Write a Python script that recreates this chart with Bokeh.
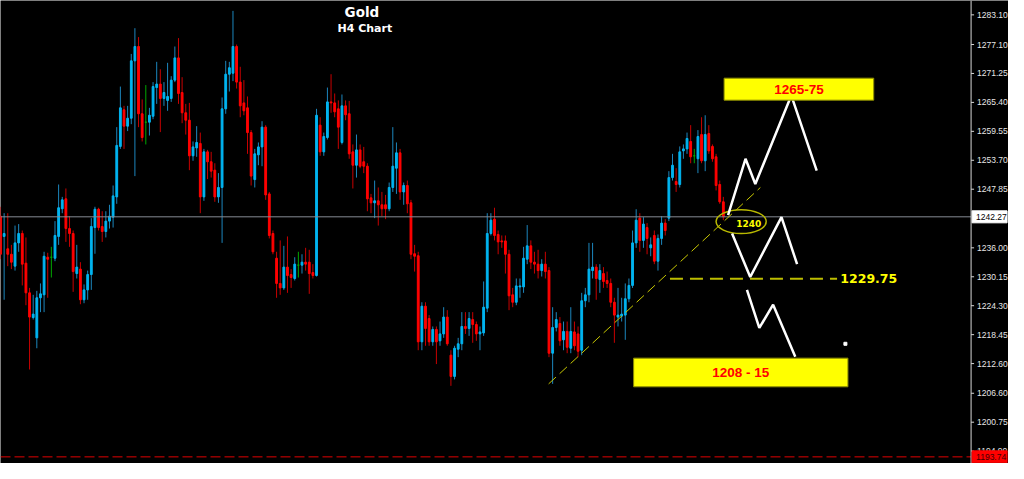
from bokeh.plotting import figure
from bokeh.models import ColumnDataSource, Label
from bokeh.core.properties import value
from bokeh.embed import file_html
from bokeh.resources import INLINE

# ---------------- data (Gold, H4) ----------------
opens = [1242.4, 1238.3, 1235.8, 1234.7, 1232.3, 1237.0, 1238.9, 1232.9, 1226.9, 1221.9,
         1217.8, 1225.9, 1226.5, 1234.1, 1234.1, 1233.9, 1238.3, 1243.9, 1245.9, 1239.9,
         1238.9, 1230.8, 1231.7, 1225.5, 1227.5, 1230.6, 1240.1, 1243.8, 1240.3, 1239.3,
         1241.4, 1242.2, 1246.3, 1256.5, 1263.9, 1260.6, 1262.2, 1273.8, 1276.7, 1263.1,
         1261.4, 1261.4, 1262.6, 1268.4, 1269.1, 1266.2, 1265.8, 1266.2, 1269.9, 1274.4,
         1267.4, 1263.3, 1261.8, 1254.6, 1256.2, 1257.1, 1246.3, 1255.4, 1253.4, 1251.7,
         1246.3, 1248.2, 1264.1, 1271.1, 1271.3, 1276.7, 1269.5, 1265.3, 1264.3, 1259.3,
         1249.8, 1254.8, 1256.4, 1260.4, 1246.9, 1238.9, 1233.9, 1228.8, 1227.9, 1232.1,
         1230.6, 1229.8, 1232.5, 1232.5, 1233.1, 1233.1, 1231.0, 1230.4, 1260.8, 1255.4,
         1258.3, 1265.5, 1265.3, 1264.1, 1257.3, 1264.7, 1263.1, 1255.4, 1252.7, 1255.8,
         1253.4, 1252.5, 1246.1, 1245.1, 1245.5, 1244.7, 1244.7, 1243.9, 1248.2, 1252.1,
         1255.2, 1247.3, 1248.6, 1245.1, 1234.8, 1234.4, 1217.0, 1224.2, 1221.7, 1217.0,
         1219.5, 1217.2, 1218.6, 1222.0, 1214.3, 1210.0, 1215.5, 1216.6, 1220.1, 1219.7,
         1221.5, 1220.5, 1218.6, 1218.8, 1223.8, 1238.9, 1241.8, 1238.7, 1237.4, 1237.4,
         1234.7, 1226.5, 1225.0, 1228.1, 1228.1, 1233.7, 1236.4, 1233.1, 1232.7, 1231.4,
         1232.7, 1231.4, 1214.7, 1219.9, 1220.7, 1217.4, 1219.1, 1215.7, 1219.0, 1218.6,
         1215.3, 1225.3, 1226.5, 1231.4, 1232.1, 1229.6, 1230.8, 1229.4, 1228.8, 1225.0,
         1222.0, 1222.2, 1222.4, 1225.7, 1228.4, 1237.0, 1242.0, 1237.5, 1240.1, 1236.0,
         1238.5, 1233.3, 1237.9, 1241.0, 1242.0, 1250.2, 1249.4, 1248.8, 1255.6, 1256.0,
         1257.5, 1254.6, 1254.0, 1258.9, 1253.6, 1259.1, 1256.5, 1254.4, 1248.8, 1245.3]

highs = [1244.3, 1243.0, 1243.0, 1236.6, 1240.5, 1240.8, 1239.5, 1238.1, 1227.9, 1226.5,
         1227.3, 1228.8, 1235.2, 1235.0, 1236.2, 1241.4, 1248.8, 1246.3, 1248.0, 1242.4,
         1239.5, 1236.6, 1233.1, 1228.6, 1231.4, 1242.0, 1244.3, 1244.1, 1243.4, 1243.4,
         1244.7, 1248.6, 1260.4, 1268.6, 1264.7, 1264.7, 1275.2, 1280.4, 1278.6, 1266.0,
         1268.9, 1264.3, 1269.5, 1273.6, 1272.1, 1269.5, 1273.4, 1270.7, 1276.7, 1278.4,
         1270.5, 1265.1, 1265.3, 1257.5, 1260.6, 1259.3, 1256.0, 1255.8, 1255.4, 1253.1,
         1251.1, 1266.4, 1273.8, 1273.6, 1283.9, 1277.1, 1272.6, 1269.9, 1266.6, 1259.8,
         1256.0, 1257.3, 1261.6, 1260.8, 1247.3, 1239.5, 1235.2, 1237.5, 1236.4, 1238.3,
         1231.7, 1234.1, 1235.2, 1234.7, 1236.0, 1235.6, 1232.7, 1264.1, 1262.4, 1259.3,
         1268.4, 1271.1, 1267.2, 1265.8, 1267.0, 1265.8, 1265.7, 1256.9, 1258.9, 1256.9,
         1256.4, 1253.1, 1246.9, 1249.6, 1248.2, 1247.3, 1246.7, 1249.2, 1260.4, 1257.3,
         1256.0, 1249.2, 1249.6, 1245.7, 1236.6, 1235.2, 1225.0, 1225.0, 1222.4, 1220.1,
         1220.1, 1221.1, 1224.0, 1223.4, 1215.3, 1216.2, 1217.8, 1223.0, 1223.0, 1223.0,
         1223.0, 1221.1, 1220.1, 1229.2, 1243.0, 1243.0, 1244.1, 1239.5, 1238.5, 1238.5,
         1235.6, 1227.9, 1229.8, 1229.8, 1236.2, 1240.6, 1237.5, 1235.2, 1235.6, 1233.7,
         1235.2, 1232.1, 1224.0, 1223.0, 1222.0, 1221.1, 1221.1, 1224.0, 1221.1, 1220.1,
         1226.9, 1227.9, 1237.0, 1237.0, 1232.7, 1232.7, 1232.1, 1231.2, 1229.8, 1225.9,
         1227.9, 1225.9, 1228.8, 1229.8, 1239.5, 1243.8, 1243.0, 1242.2, 1241.0, 1238.1,
         1239.5, 1238.7, 1242.4, 1241.8, 1251.5, 1255.0, 1252.1, 1256.5, 1256.9, 1259.3,
         1260.8, 1256.0, 1259.8, 1262.4, 1262.8, 1260.8, 1256.9, 1255.0, 1249.6, 1246.3]

lows = [1233.7, 1225.5, 1232.3, 1231.7, 1231.4, 1235.2, 1228.4, 1224.4, 1211.4, 1221.5,
        1215.7, 1223.0, 1223.0, 1225.9, 1230.0, 1233.3, 1236.6, 1243.0, 1237.2, 1236.2,
        1227.1, 1229.8, 1224.6, 1224.8, 1225.5, 1227.5, 1234.8, 1239.5, 1237.2, 1238.1,
        1239.9, 1240.1, 1244.9, 1256.0, 1256.0, 1259.6, 1261.0, 1250.5, 1260.4, 1257.5,
        1256.9, 1258.7, 1262.0, 1265.1, 1259.4, 1264.7, 1263.7, 1265.5, 1269.5, 1265.1,
        1261.2, 1258.9, 1251.7, 1253.6, 1254.4, 1243.0, 1245.5, 1249.9, 1250.2, 1245.3,
        1245.1, 1237.0, 1263.1, 1267.6, 1269.7, 1268.2, 1262.4, 1262.8, 1255.0, 1248.6,
        1248.2, 1252.7, 1252.5, 1245.7, 1237.9, 1234.7, 1225.9, 1226.5, 1227.5, 1226.9,
        1227.9, 1229.4, 1230.0, 1230.8, 1231.4, 1226.7, 1229.8, 1230.2, 1254.6, 1254.6,
        1257.9, 1263.3, 1262.4, 1256.0, 1256.9, 1261.8, 1254.0, 1248.0, 1250.2, 1252.1,
        1251.1, 1243.4, 1243.0, 1242.0, 1240.5, 1242.4, 1241.8, 1243.4, 1247.3, 1246.9,
        1245.7, 1244.7, 1243.0, 1233.7, 1231.2, 1215.3, 1215.3, 1216.2, 1216.2, 1216.2,
        1212.5, 1216.2, 1217.8, 1216.2, 1208.1, 1209.4, 1213.9, 1215.3, 1218.6, 1218.2,
        1216.8, 1217.2, 1215.3, 1218.2, 1223.0, 1238.5, 1237.5, 1234.7, 1236.0, 1230.8,
        1223.4, 1224.0, 1224.4, 1225.9, 1226.9, 1232.7, 1231.7, 1230.8, 1229.8, 1230.2,
        1229.8, 1213.9, 1208.5, 1219.1, 1216.2, 1215.3, 1214.7, 1214.7, 1215.3, 1213.9,
        1214.3, 1224.0, 1225.0, 1229.8, 1225.5, 1226.9, 1227.9, 1227.9, 1224.0, 1216.8,
        1220.1, 1221.1, 1217.4, 1225.0, 1227.9, 1236.0, 1235.2, 1236.0, 1234.7, 1234.3,
        1232.7, 1231.4, 1236.6, 1238.5, 1241.4, 1249.6, 1247.3, 1248.2, 1254.0, 1255.0,
        1253.1, 1253.1, 1251.1, 1253.1, 1251.5, 1255.0, 1253.4, 1247.6, 1244.9, 1241.6]

closes = [1234.7, 1238.9, 1234.7, 1233.1, 1237.0, 1238.9, 1232.7, 1226.9, 1222.0, 1222.6,
          1225.9, 1226.7, 1234.3, 1233.7, 1234.1, 1238.5, 1244.1, 1245.7, 1239.9, 1238.9,
          1231.2, 1232.1, 1225.5, 1227.5, 1230.6, 1240.3, 1243.8, 1240.1, 1239.3, 1241.4,
          1242.4, 1246.5, 1256.7, 1264.3, 1260.6, 1262.2, 1273.8, 1276.7, 1263.1, 1258.3,
          1261.4, 1262.8, 1268.6, 1269.1, 1266.2, 1267.4, 1266.6, 1269.9, 1274.4, 1267.2,
          1263.3, 1261.8, 1254.6, 1256.4, 1257.3, 1246.3, 1255.4, 1253.4, 1251.5, 1246.3,
          1248.2, 1264.1, 1271.1, 1272.4, 1276.7, 1269.5, 1264.7, 1263.7, 1259.3, 1250.5,
          1255.0, 1256.4, 1260.4, 1246.7, 1238.5, 1235.2, 1228.8, 1227.9, 1232.1, 1230.4,
          1230.0, 1232.7, 1232.5, 1233.1, 1232.7, 1230.8, 1230.4, 1262.8, 1255.4, 1258.5,
          1265.5, 1265.3, 1263.5, 1260.4, 1264.7, 1262.9, 1255.0, 1252.7, 1255.8, 1252.5,
          1252.5, 1245.9, 1245.1, 1245.5, 1244.7, 1243.9, 1243.9, 1248.2, 1252.5, 1255.2,
          1247.3, 1248.6, 1244.9, 1234.7, 1234.3, 1217.0, 1224.2, 1219.7, 1217.0, 1219.5,
          1217.0, 1218.6, 1222.0, 1216.6, 1210.0, 1215.7, 1216.6, 1220.1, 1219.7, 1221.7,
          1220.5, 1218.6, 1219.0, 1224.0, 1238.9, 1241.6, 1238.5, 1237.2, 1237.2, 1234.7,
          1226.3, 1225.0, 1228.3, 1228.3, 1233.9, 1236.4, 1233.1, 1232.7, 1231.4, 1232.7,
          1231.2, 1214.7, 1219.9, 1221.5, 1217.2, 1219.1, 1215.9, 1219.1, 1216.2, 1215.1,
          1225.3, 1226.5, 1231.7, 1232.1, 1229.8, 1231.4, 1229.2, 1228.8, 1225.0, 1222.4,
          1222.4, 1222.6, 1225.7, 1228.4, 1237.0, 1241.6, 1237.5, 1240.8, 1237.9, 1236.6,
          1233.3, 1237.9, 1241.0, 1239.5, 1250.2, 1252.7, 1248.8, 1255.4, 1256.0, 1258.1,
          1254.4, 1254.6, 1258.5, 1253.6, 1258.9, 1255.6, 1254.0, 1248.6, 1245.3, 1242.27]

price_ticks = [1283.10, 1277.10, 1271.25, 1265.40, 1259.55, 1253.70, 1247.85,
               1236.00, 1230.15, 1224.30, 1218.45, 1212.60, 1206.60, 1200.75, 1194.90]
lower_line_level = 1193.74

title_text = "Gold"
subtitle_text = "H4 Chart"

# analysis annotations (bar index, price)
trend_bars = [150.9, 209.2]
trend_prices = [1208.5, 1248.2]
support_level = 1229.75
support_bars = [184.3, 230.3]
pivot_label = "1240"
pivot_bar = 203.9
pivot_price = 1241.3
bull_path_bars = [200.3, 205.1, 207.8, 217.7, 224.7]
bull_path_prices = [1242.6, 1254.0, 1248.9, 1266.8, 1251.6]
mid_path_bars = [201.4, 206.4, 215.0, 219.3]
mid_path_prices = [1238.9, 1230.1, 1242.2, 1232.7]
bear_path_bars = [205.5, 208.9, 212.7, 218.8]
bear_path_prices = [1227.5, 1219.8, 1224.5, 1214.0]
upper_target_text = "1265-75"
upper_target_bars = [199.2, 240.4]
upper_target_prices = [1265.85, 1270.3]
lower_target_text = "1208 - 15"
lower_target_bars = [174.3, 233.3]
lower_target_prices = [1207.9, 1213.7]

# ---------------- layout ----------------
W, H = 1008, 463
BARS_VISIBLE = 277.5               # bars spanned by the full chart width
PRICE_TOP = 1286.0
PRICE_SPAN = 93.6
SCALE_BAR = 267.2                  # where the price scale sits (bar units)
X0, X1 = 0.0, BARS_VISIBLE
Y1 = PRICE_TOP
Y0 = PRICE_TOP - PRICE_SPAN
bpx = BARS_VISIBLE / W             # one pixel in bar units
upx = PRICE_SPAN / H               # one pixel in price units
SX = SCALE_BAR

BULL = "#00b4f0"
BEAR = "#ff0000"
DOJI = "#00a800"
BULL_WICK = "#1c86bd"
BEAR_WICK = "#c80000"

n = len(closes)
idx = list(range(n))
body_col, wick_col, tops, bots = [], [], [], []
for o, c in zip(opens, closes):
    if c > o:
        body_col.append(BULL); wick_col.append(BULL_WICK)
    elif c < o:
        body_col.append(BEAR); wick_col.append(BEAR_WICK)
    else:
        body_col.append(DOJI); wick_col.append(DOJI)
    tops.append(max(o, c)); bots.append(min(o, c))

src = ColumnDataSource(dict(x=idx, o=opens, h=highs, l=lows, c=closes,
                            top=tops, bot=bots, bc=body_col, wc=wick_col))

p = figure(width=W, height=H, x_range=(X0, X1), y_range=(Y0, Y1),
           output_backend="svg", toolbar_location=None,
           x_axis_location=None, y_axis_location=None,
           background_fill_color="#000000", border_fill_color="#000000",
           min_border=0)
p.outline_line_color = None
p.grid.visible = False

# candles
p.segment(x0="x", y0="l", x1="x", y1="h", source=src, line_color="wc", line_width=1)
p.vbar(x="x", top="top", bottom="bot", width=0.5, source=src,
       fill_color="bc", line_color="bc", line_width=1)

# current price line and lower (red) line
last = closes[-1]
p.segment(x0=[X0], y0=[last], x1=[SX], y1=[last], line_color="#858b93", line_width=1)
p.segment(x0=[X0], y0=[lower_line_level], x1=[SX], y1=[lower_line_level],
          line_color="#e00000", line_width=1, line_dash="10 4")

# price scale (MT4 style, on the right)
p.segment(x0=[SX], y0=[Y0], x1=[SX], y1=[Y1], line_color="#d8d8d8", line_width=1)
tick_src = ColumnDataSource(dict(y=price_ticks, lab=[f"{t:.2f}" for t in price_ticks]))
p.segment(x0=SX, y0="y", x1=SX + 3 * bpx, y1="y", source=tick_src,
          line_color="#d8d8d8", line_width=1)
p.text(x=SX + 6 * bpx, y="y", text="lab", source=tick_src,
       text_color="#e6e6e6", text_font=value("Liberation Sans"), text_font_size="8.5px",
       text_baseline="middle", text_align="left")

# price tags on the scale
for lvl, fill, tcol in [(last, "white", "black"), (lower_line_level, "#ff0000", "#400000")]:
    p.quad(left=[SX + 1 * bpx], right=[SX + 36 * bpx],
           bottom=[lvl - 6 * upx], top=[lvl + 6 * upx],
           fill_color=fill, line_color=fill)
    p.text(x=[SX + 5 * bpx], y=[lvl], text=[f"{lvl:.2f}"],
           text_color=tcol, text_font=value("Liberation Sans"), text_font_size="8.5px",
           text_baseline="middle", text_align="left")

# trend line & support
p.line(trend_bars, trend_prices, line_color="#c8c800", line_width=1, line_dash="10 5")
p.line(support_bars, [support_level, support_level], line_color="#bdbd00",
       line_width=2, line_dash="13 7")
p.add_layout(Label(x=support_bars[1] + 0.9, y=support_level, text=f"{support_level:.2f}",
                   text_color="#ffff00", text_font="DejaVu Sans", text_font_style="bold",
                   text_font_size="12.5px", text_baseline="middle", text_align="left"))

# pivot ellipse
p.ellipse(x=[pivot_bar], y=[pivot_price], width=13.8, height=4.84,
          fill_color=None, line_color="#b8b800", line_width=1.5)
p.add_layout(Label(x=pivot_bar + 2.1, y=pivot_price - 0.45, text=pivot_label,
                   text_color="#ffff00", text_font="DejaVu Sans", text_font_style="bold",
                   text_font_size="9px", text_baseline="middle", text_align="center"))

# projected paths
for bx, py in [(bull_path_bars, bull_path_prices), (mid_path_bars, mid_path_prices),
               (bear_path_bars, bear_path_prices)]:
    p.line(bx, py, line_color="white", line_width=2.5)
p.scatter([232.6], [1216.6], marker="square", size=3, color="white")

# target zones
for bx, py, txt in [(upper_target_bars, upper_target_prices, upper_target_text),
                    (lower_target_bars, lower_target_prices, lower_target_text)]:
    p.quad(left=[bx[0]], right=[bx[1]], bottom=[py[0]], top=[py[1]],
           fill_color="#ffff00", line_color="#8a8a00", line_width=1)
    p.add_layout(Label(x=(bx[0] + bx[1]) / 2, y=(py[0] + py[1]) / 2, text=txt,
                       text_color="#ff0000", text_font="Liberation Sans",
                       text_font_style="bold", text_font_size="13.5px",
                       text_baseline="middle", text_align="center"))

# titles
p.add_layout(Label(x=99.5, y=1283.7, text=title_text, text_color="white",
                   text_font="DejaVu Sans", text_font_style="bold", text_font_size="13.5px",
                   text_baseline="middle", text_align="center"))
p.add_layout(Label(x=100.3, y=1280.3, text=subtitle_text, text_color="white",
                   text_font="DejaVu Sans", text_font_style="bold", text_font_size="11px",
                   text_baseline="middle", text_align="center"))

open("out.html", "w").write(file_html(p, INLINE))
